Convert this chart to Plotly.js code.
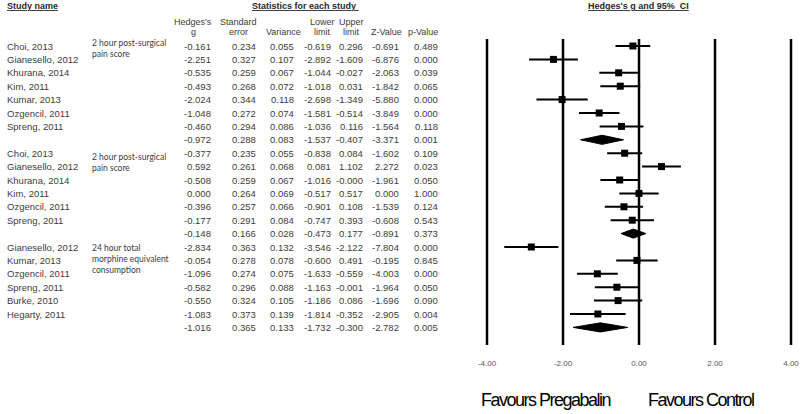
<!DOCTYPE html>
<html>
<head>
<meta charset="utf-8">
<script src="https://cdn.plot.ly/plotly-3.0.1.min.js"></script>
<style>
	html, body { margin: 0; padding: 0; background: #fff; }
	#forest { width: 800px; height: 414px; }
</style>
</head>
<body>
<div id="forest"></div>
<script>
(function () {

	'use strict';

	// table rows, top to bottom ('' = pooled summary row)
	const studies = [
		'Choi, 2013', 'Gianesello, 2012', 'Khurana, 2014', 'Kim, 2011', 'Kumar, 2013', 'Ozgencil, 2011', 'Spreng, 2011', '',
		'Choi, 2013', 'Gianesello, 2012', 'Khurana, 2014', 'Kim, 2011', 'Ozgencil, 2011', 'Spreng, 2011', '',
		'Gianesello, 2012', 'Kumar, 2013', 'Ozgencil, 2011', 'Spreng, 2011', 'Burke, 2010', 'Hegarty, 2011', ''
	];
	const hedgesG = [-0.161, -2.251, -0.535, -0.493, -2.024, -1.048, -0.460, -0.972,
		-0.377, 0.592, -0.508, 0.000, -0.396, -0.177, -0.148,
		-2.834, -0.054, -1.096, -0.582, -0.550, -1.083, -1.016];
	const stdErr = [0.234, 0.327, 0.259, 0.268, 0.344, 0.272, 0.294, 0.288,
		0.235, 0.261, 0.259, 0.264, 0.257, 0.291, 0.166,
		0.363, 0.278, 0.274, 0.296, 0.324, 0.373, 0.365];
	const variance = [0.055, 0.107, 0.067, 0.072, 0.118, 0.074, 0.086, 0.083,
		0.055, 0.068, 0.067, 0.069, 0.066, 0.084, 0.028,
		0.132, 0.078, 0.075, 0.088, 0.105, 0.139, 0.133];
	const lowerLimit = [-0.619, -2.892, -1.044, -1.018, -2.698, -1.581, -1.036, -1.537,
		-0.838, 0.081, -1.016, -0.517, -0.901, -0.747, -0.473,
		-3.546, -0.600, -1.633, -1.163, -1.186, -1.814, -1.732];
	const upperLimit = [0.296, -1.609, -0.027, 0.031, -1.349, -0.514, 0.116, -0.407,
		0.084, 1.102, -0.000, 0.517, 0.108, 0.393, 0.177,
		-2.122, 0.491, -0.559, -0.001, 0.086, -0.352, -0.300];
	const zValue = [-0.691, -6.876, -2.063, -1.842, -5.880, -3.849, -1.564, -3.371,
		-1.602, 2.272, -1.961, 0.000, -1.539, -0.608, -0.891,
		-7.804, -0.195, -4.003, -1.964, -1.696, -2.905, -2.782];
	const pValue = [0.489, 0.000, 0.039, 0.065, 0.000, 0.000, 0.118, 0.001,
		0.109, 0.023, 0.050, 1.000, 0.124, 0.543, 0.373,
		0.000, 0.845, 0.000, 0.050, 0.090, 0.004, 0.005];

	// outcome labels (first row of each subgroup)
	const outcomeLabels = [
		'2 hour post-surgical<br>pain score',
		'2 hour post-surgical<br>pain score',
		'24 hour total<br>morphine equivalent<br>consumption'
	];
	const outcomeRows = [0.2, 8.7, 15.9];

	const xTicks = [-4, -2, 0, 2, 4];
	const xTickText = ['-4.00', '-2.00', '0.00', '2.00', '4.00'];

	/**
	* geometry (px)
	*/
	const W = 800, H = 414;
	const ROW0 = 46, ROWH = 13.4;
	const px = ( x ) => x / W;
	const py = ( y ) => 1 - y / H;
	// forest panel: -4 at 487px, +4 at 791px, padded so edge lines are not clipped
	const PXU = 38, PAD = 7;

	const fontMain = 'Liberation Sans, Arial, sans-serif';
	const textColor = '#3c3c3c';

	const fmt = ( v ) => ( Object.is( v, -0 ) ? '-' : '' ) + v.toFixed(3);

	const annotations = [];
	const addText = ( text, x, y, opts = {} ) => {
		annotations.push(Object.assign({
			text: text,
			x: x, y: y,
			xref: 'paper', yref: 'paper',
			showarrow: false,
			xanchor: 'center', yanchor: 'middle',
			font: { family: fontMain, size: 9.5, color: textColor }
		}, opts));
	};

	// headers
	const headFont = { family: fontMain, size: 9, color: '#2a2a2a' };
	addText('<b><u>Study name</u></b>', px(5), py(6), { xanchor: 'left', font: headFont });
	addText('<b><u>Statistics for each study </u></b>', px(305), py(6), { font: headFont });
	addText('<b><u>Hedges\'s g and 95%  CI</u></b>', px(638), py(6), { font: headFont });

	const colFont = { family: fontMain, size: 9, color: textColor };
	const colHeads = [
		[ 'Hedges\'s', 'g', 193 ],
		[ 'Standard', 'error', 238 ],
		[ '', 'Variance', 283 ],
		[ 'Lower', 'limit', 322 ],
		[ 'Upper', 'limit', 351 ],
		[ '', 'Z-Value', 386 ],
		[ '', 'p-Value', 423 ]
	];
	colHeads.forEach(( c ) => {
		if( c[0] ) addText( c[0], px(c[2]), py(22), { font: colFont } );
		addText( c[1], px(c[2]), py(32), { font: colFont } );
	});

	// table body
	const columns = [
		[ hedgesG, 213 ], [ stdErr, 258 ], [ variance, 296 ],
		[ lowerLimit, 333 ], [ upperLimit, 365 ], [ zValue, 401 ], [ pValue, 440 ]
	];
	studies.forEach(( name, i ) => {
		if( name ) addText( name, px(5), i, { xanchor: 'left', yref: 'y' } );
		columns.forEach(( c ) => {
			addText( fmt( c[0][i] ), px(c[1]), i, { xanchor: 'right', yref: 'y' } );
		});
	});

	outcomeLabels.forEach(( lbl, k ) => {
		addText( lbl, px(90), outcomeRows[k], {
			xanchor: 'left', yref: 'y', align: 'left',
			font: { family: 'Lato, Open Sans, sans-serif', size: 8.5, color: textColor }
		});
	});

	// favours labels (condensed look)
	const favFont = { family: fontMain, size: 18, color: '#000' };
	const squeeze = ( t ) => `<span style="letter-spacing:-1.5px">${t}</span>`;
	addText( squeeze('Favours Pregabalin'), px(546), py(400), { font: favFont } );
	addText( squeeze('Favours Control'), px(701), py(400), { font: favFont } );

	/**
	* Forest plot traces
	*/
	const rowIdx = studies.map(( s, i ) => i );
	const studyRows = rowIdx.filter(( i ) => studies[i] !== '' );
	const summaryRows = rowIdx.filter(( i ) => studies[i] === '' );

	const points = {
		x: studyRows.map(( i ) => hedgesG[i] ),
		y: studyRows,
		type: 'scatter',
		mode: 'markers',
		marker: { symbol: 'square', size: 7, color: '#000' },
		error_x: {
			type: 'data',
			symmetric: false,
			array: studyRows.map(( i ) => upperLimit[i] - hedgesG[i] ),
			arrayminus: studyRows.map(( i ) => hedgesG[i] - lowerLimit[i] ),
			width: 0,
			thickness: 2,
			color: '#000'
		},
		cliponaxis: false,
		hoverinfo: 'skip'
	};

	const halfH = 0.34;
	const diamonds = summaryRows.map(( i ) => ({
		x: [ lowerLimit[i], hedgesG[i], upperLimit[i], hedgesG[i], lowerLimit[i] ],
		y: [ i, i - halfH, i, i + halfH, i ],
		type: 'scatter',
		mode: 'lines',
		fill: 'toself',
		fillcolor: '#000',
		line: { color: '#000', width: 1 },
		hoverinfo: 'skip'
	}));

	// vertical reference lines
	const shapes = xTicks.map(( t ) => ({
		type: 'line',
		xref: 'x', yref: 'y',
		x0: t, x1: t,
		y0: -0.52, y1: 22.31,
		line: { color: '#000', width: 2.5 }
	}));

	const layout = {
		width: W, height: H,
		margin: { l: 0, r: 0, t: 0, b: 0 },
		paper_bgcolor: '#fff',
		plot_bgcolor: 'rgba(0,0,0,0)',
		showlegend: false,
		xaxis: {
			domain: [ px(487 - PAD), px(791 + PAD) ],
			range: [ -4 - PAD / PXU, 4 + PAD / PXU ],
			anchor: 'free',
			position: 0.138,
			showgrid: false, zeroline: false, showline: false,
			ticks: '',
			tickvals: xTicks,
			ticktext: xTickText,
			tickfont: { family: fontMain, size: 8, color: '#555' },
			fixedrange: true
		},
		yaxis: {
			domain: [ 0, 1 ],
			range: [ ( H - ROW0 ) / ROWH, -ROW0 / ROWH ],
			visible: false,
			fixedrange: true
		},
		shapes: shapes,
		annotations: annotations
	};

	Plotly.newPlot( 'forest', [ points ].concat( diamonds ), layout, { displayModeBar: false, staticPlot: true } );

})();
</script>
</body>
</html>
